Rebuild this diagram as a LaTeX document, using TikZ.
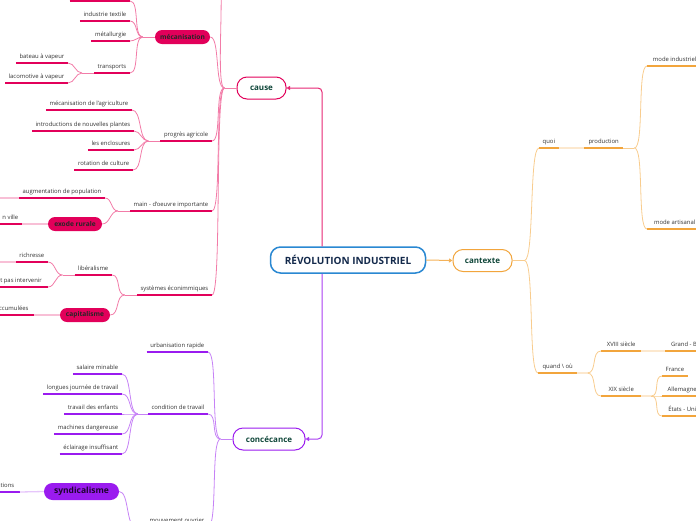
\documentclass[tikz,border=0pt]{standalone}
\usepackage{fontspec}
\setmainfont{Open Sans}
\usepackage{xcolor}
\usetikzlibrary{positioning,arrows.meta}

\definecolor{rosefort}{HTML}{E2005A}
\definecolor{roseclair}{HTML}{F27CA8}
\definecolor{violetfort}{HTML}{9A1BEF}
\definecolor{violetclair}{HTML}{C682F6}
\definecolor{orangefort}{HTML}{F2A53C}
\definecolor{orangeclair}{HTML}{F8CC8E}
\definecolor{bleucentre}{HTML}{2A88D2}
\definecolor{bleunuit}{HTML}{13294B}
\definecolor{vertnoir}{HTML}{10473A}
\definecolor{gristexte}{HTML}{333333}

\begin{document}
\begin{tikzpicture}[
			x=1pt, y=-1pt,
			centre/.style={draw=bleucentre, line width=1.5pt, fill=white, rounded corners=10pt,
				minimum width=155pt, minimum height=26pt,
				font=\bfseries\fontsize{10}{11}\selectfont, text=bleunuit},
			branche/.style={fill=white, line width=1pt, rounded corners=10pt, minimum height=22pt,
				font=\bfseries\fontsize{8}{9}\selectfont, text=vertnoir},
			capsule/.style={rounded corners=7pt, minimum height=14pt, inner xsep=5pt,
				font=\bfseries\fontsize{6.6}{7}\selectfont, text=black!85},
			etiquette/.style={font=\fontsize{5.9}{6.5}\selectfont, text=gristexte,
				inner xsep=3.5pt, inner ysep=3.2pt, text height=4.2pt, text depth=1.4pt},
			feuillerose/.style={etiquette, append after command={(\tikzlastnode.south west)
				edge[draw=rosefort, line width=1.3pt] (\tikzlastnode.south east)}},
			feuilleviolet/.style={etiquette, append after command={(\tikzlastnode.south west)
				edge[draw=violetfort, line width=1.3pt] (\tikzlastnode.south east)}},
			feuilleorange/.style={etiquette, append after command={(\tikzlastnode.south west)
				edge[draw=orangefort, line width=1.3pt] (\tikzlastnode.south east)}},
			filrose/.style={draw=roseclair, line width=0.8pt},
			filviolet/.style={draw=violetclair, line width=0.8pt},
			filorange/.style={draw=orangeclair, line width=0.8pt},
			pale/.style={line width=1.3pt, draw=#1!25},
			fil/.style={out=180, in=0, max distance=10pt},
			fild/.style={out=0, in=180, max distance=10pt},
			pointe/.style={-{Triangle[length=3.5pt,width=4pt]}}]
			\useasboundingbox (0,0) rectangle (696,520);
			\clip (0,0) rectangle (696,520);
			
			\node[centre] (revolution) at (348,260) {RÉVOLUTION INDUSTRIEL};
			\node[branche, draw=rosefort, minimum width=49pt] (cause) at (261.5,88) {cause};
			\node[branche, draw=orangefort, minimum width=59pt] (cantexte) at (482.5,260.5) {cantexte};
			\node[branche, draw=violetfort, minimum width=72pt] (concecance) at (269,439) {concécance};
			\draw[rosefort!85, line width=1pt, rounded corners=4pt, pointe]
				([xshift=-26pt]revolution.north) |- (cause.east);
			\draw[violetfort!85, line width=1pt, rounded corners=4pt, pointe]
				([xshift=-26pt]revolution.south) |- (concecance.east);
			\draw[orangefort!85, line width=1pt, pointe] (revolution.east) -- (cantexte.west);
			
			% cause
			\node[capsule, fill=rosefort, minimum width=55pt] (mecanisation) at (182.5,37) {mécanisation};
			\node[feuillerose, anchor=south east] (agricole) at (212,141) {progrès agricole};
			\node[feuillerose, anchor=south east] (maindoeuvre) at (212,211) {main - d'oeuvre importante};
			\node[feuillerose, anchor=south east] (systemes) at (212,295) {systèmes éconimmiques};
			\coordinate (horscause) at (217,-30);
			\draw[filrose] (cause.west) -- ++(-12,0) coordinate (fcause);
			\foreach \n in {horscause, mecanisation.east, agricole.south east,
				maindoeuvre.south east, systemes.south east}
				\draw[filrose] (fcause) to[fil] (\n);
			
			\node[feuillerose, anchor=south east, minimum width=60pt] (hautmeca) at (130,1) {};
			\node[feuillerose, anchor=south east] (textile) at (130,21) {industrie textile};
			\node[feuillerose, anchor=south east] (metallurgie) at (130,41) {métallurgie};
			\node[feuillerose, anchor=south east] (transports) at (130,73) {transports};
			\draw[filrose] (mecanisation.west) -- ++(-12,0) coordinate (fmeca);
			\foreach \n in {hautmeca, textile, metallurgie, transports}
				\draw[filrose] (fmeca) to[fil] (\n.south east);
			
			\node[feuillerose, anchor=south east] (bateau) at (68,63) {bateau à vapeur};
			\node[feuillerose, anchor=south east] (locomotive) at (68,83) {lacomotive à vapeur};
			\draw[filrose] (transports.south west) -- ++(-12,0) coordinate (ftransports);
			\foreach \n in {bateau, locomotive}
				\draw[filrose] (ftransports) to[fil] (\n.south east);
			
			\node[feuillerose, anchor=south east] (mecagri) at (132,110) {mécanisation de l'agriculture};
			\node[feuillerose, anchor=south east] (plantes) at (134,131) {introductions de nouvelles plantes};
			\node[feuillerose, anchor=south east] (enclosures) at (134,150) {les enclosures};
			\node[feuillerose, anchor=south east] (rotation) at (133,170) {rotation de culture};
			\draw[filrose] (agricole.south west) -- ++(-12,0) coordinate (fagricole);
			\foreach \n in {mecagri, plantes, enclosures, rotation}
				\draw[filrose] (fagricole) to[fil] (\n.south east);
			
			\node[feuillerose, anchor=south east] (population) at (105,198) {augmentation de population};
			\node[capsule, fill=rosefort, minimum width=54pt] (exode) at (75,224) {exode rurale};
			\node[feuillerose, anchor=south east] (enville) at (22,224) {n ville};
			\draw[filrose] (maindoeuvre.south west) -- ++(-12,0) coordinate (fmain);
			\draw[filrose] (fmain) to[fil] (population.south east);
			\draw[filrose] (fmain) to[fil] (exode.east);
			\draw[pale=rosefort] (exode.west) -- (enville.south east);
			\coordinate (horspopulation) at (-5,198);
			\draw[pale=rosefort] (population.south west) -- (horspopulation);
			
			\node[feuillerose, anchor=south east] (liberalisme) at (112,275) {libéralisme};
			\node[capsule, fill=rosefort, minimum width=50pt] (capitalisme) at (85,315) {capitalisme};
			\draw[filrose] (systemes.south west) -- ++(-12,0) coordinate (fsystemes);
			\draw[filrose] (fsystemes) to[fil] (liberalisme.south east);
			\draw[filrose] (fsystemes) to[fil] (capitalisme.east);
			\node[feuillerose, anchor=south east] (richesse) at (48,262) {richresse};
			\node[feuillerose, anchor=south east, minimum width=55pt] (intervenir) at (48,287) {it pas intervenir};
			\draw[filrose] (liberalisme.south west) -- ++(-12,0) coordinate (fliberalisme);
			\foreach \n in {richesse, intervenir}
				\draw[filrose] (fliberalisme) to[fil] (\n.south east);
			\coordinate (horsrichesse) at (-5,262);
			\draw[pale=rosefort] (richesse.south west) -- (horsrichesse);
			\node[feuillerose, anchor=south east, minimum width=40pt] (accumulees) at (34,315) {ccumulées};
			\draw[pale=rosefort] (capitalisme.west) -- (accumulees.south east);
			
			% concecance
			\node[feuilleviolet, anchor=south east] (urbanisation) at (208,352) {urbanisation rapide};
			\node[feuilleviolet, anchor=south east] (condition) at (208,414) {condition de travail};
			\node[feuilleviolet, anchor=south east] (mouvement) at (208,527) {mouvement ouvrier};
			\draw[filviolet] (concecance.west) -- ++(-12,0) coordinate (fconcecance);
			\foreach \n in {urbanisation, condition, mouvement}
				\draw[filviolet] (fconcecance) to[fil] (\n.south east);
			
			\node[feuilleviolet, anchor=south east] (salaire) at (122,374) {salaire minable};
			\node[feuilleviolet, anchor=south east] (journee) at (122,394) {longues journée de travail};
			\node[feuilleviolet, anchor=south east] (enfants) at (122,414) {travail des enfants};
			\node[feuilleviolet, anchor=south east] (machines) at (122,434) {machines dangereuse};
			\node[feuilleviolet, anchor=south east] (eclairage) at (122,454) {éclairage insuffisant};
			\draw[filviolet] (condition.south west) -- ++(-10,0) coordinate (fcondition);
			\foreach \n in {salaire, journee, enfants, machines, eclairage}
				\draw[filviolet] (fcondition) to[fil] (\n.south east);
			
			\node[capsule, fill=violetfort, rounded corners=8.5pt, minimum width=75pt, minimum height=17pt,
				font=\bfseries\fontsize{8.5}{9}\selectfont, text={black!80!violetfort}] (syndicalisme) at (81.5,491.5) {syndicalisme};
			\node[feuilleviolet, anchor=south east, minimum width=28pt] (ations) at (20,492) {ations};
			\draw[pale=violetfort] (syndicalisme.west) -- (ations.south east);
			\draw[filviolet] (mouvement.south west) -- ++(-10,0) coordinate (fmouvement);
			\draw[filviolet] (fmouvement) to[fil] (syndicalisme.east);
			
			% cantexte
			\node[feuilleorange, anchor=south west] (quoi) at (539,148) {quoi};
			\node[feuilleorange, anchor=south west, minimum width=39pt] (quand) at (538,373) {quand \textbackslash{} où};
			\draw[filorange] (cantexte.east) -- ++(12,0) coordinate (fcantexte);
			\foreach \n in {quoi, quand}
				\draw[filorange] (fcantexte) to[fild] (\n.south west);
			
			\node[feuilleorange, anchor=south west, minimum width=39pt] (production) at (584,148) {production};
			\draw[pale=orangefort] (quoi.south east) -- (production.south west);
			\node[feuilleorange, anchor=south west, minimum width=55pt] (industriel) at (647,66) {mode industriel};
			\node[feuilleorange, anchor=south west, minimum width=55pt] (artisanal) at (647,229) {mode artisanal};
			\draw[filorange] (production.south east) -- ++(11,0) coordinate (fproduction);
			\foreach \n in {industriel, artisanal}
				\draw[filorange] (fproduction) to[fild] (\n.south west);
			
			\node[feuilleorange, anchor=south west, minimum width=40pt] (xviii) at (601,351) {XVIII siècle};
			\node[feuilleorange, anchor=south west, minimum width=40pt] (xix) at (601,396) {XIX siècle};
			\draw[pale=orangefort] (quand.south east) -- ++(10,0) coordinate (fquand);
			\foreach \n in {xviii, xix}
				\draw[filorange] (fquand) to[fild] (\n.south west);
			\node[feuilleorange, anchor=south west, minimum width=40pt] (grandbr) at (665,351) {Grand - Br};
			\draw[pale=orangefort] (xviii.south east) -- (grandbr.south west);
			
			\node[feuilleorange, anchor=south west] (france) at (662,376) {France};
			\node[feuilleorange, anchor=south west, minimum width=40pt] (allemagne) at (662,396) {Allemagne};
			\node[feuilleorange, anchor=south west, minimum width=40pt] (etats) at (662,416) {États - Uni};
			\draw[pale=orangefort] (xix.south east) -- ++(10,0) coordinate (fxix);
			\foreach \n in {france, allemagne, etats}
				\draw[filorange] (fxix) to[fild] (\n.south west);
\end{tikzpicture}
\end{document}
